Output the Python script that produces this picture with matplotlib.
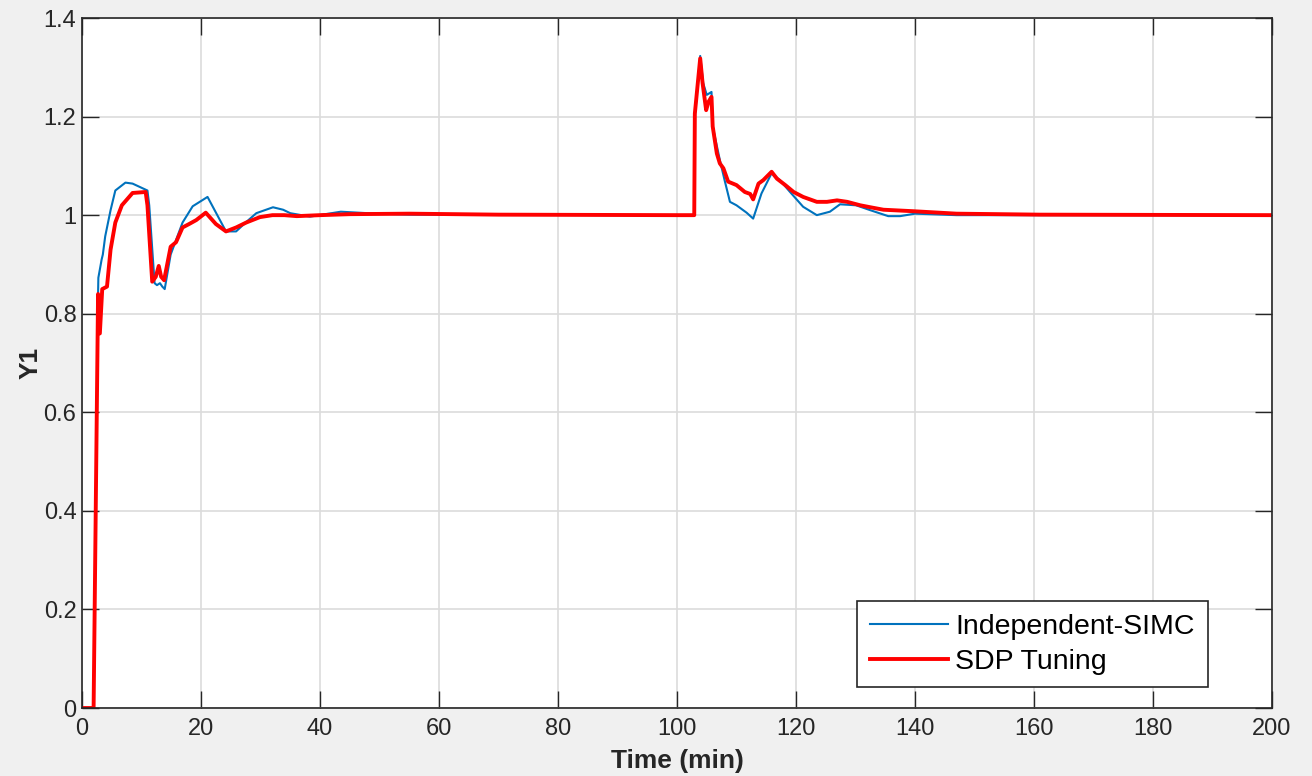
import numpy as np
import matplotlib.pyplot as plt

# response of Y1
t_simc = [0, 1.95, 2.7, 2.75, 3.3, 3.5, 3.9, 4.8, 5.6, 7.3, 8.5, 11.0, 11.3, 12.2,
          12.6, 13.1, 13.5, 13.9, 14.9, 16.9, 18.6, 21.1, 24.2, 25.9, 27.5, 29.3,
          32.1, 33.8, 35.0, 38.3, 43.5, 48.0, 55.0, 100.0, 102.9, 103.0, 103.9,
          104.4, 105.0, 105.8, 106.0, 107.2, 108.0, 108.9, 110.0, 111.7, 112.8,
          114.2, 115.9, 117.3, 119.0, 121.2, 123.5, 125.7, 127.4, 130.1, 132.5,
          135.5, 137.5, 140.0, 147.0, 200.0]
y_simc = [0, 0, 0.84, 0.873, 0.91, 0.92, 0.957, 1.01, 1.05, 1.066, 1.064, 1.05, 1.02,
          0.862, 0.858, 0.862, 0.855, 0.85, 0.92, 0.985, 1.018, 1.037, 0.967, 0.967,
          0.985, 1.004, 1.016, 1.011, 1.004, 0.997, 1.007, 1.004, 1.001, 1.0, 1.0,
          1.2, 1.323, 1.268, 1.244, 1.25, 1.18, 1.112, 1.071, 1.027, 1.02, 1.005,
          0.993, 1.044, 1.085, 1.071, 1.047, 1.017, 1.0, 1.007, 1.022, 1.02, 1.01,
          0.998, 0.998, 1.003, 1.0, 1.0]

t_sdp = [0, 1.95, 2.7, 3.0, 3.4, 4.2, 4.8, 5.6, 6.7, 8.5, 10.7, 11.0, 11.8, 12.4,
         12.9, 13.3, 13.8, 14.9, 15.8, 16.9, 18.0, 19.2, 20.8, 22.5, 24.2, 25.9,
         27.6, 29.9, 32.0, 34.0, 36.1, 40.0, 45.0, 55.0, 70.0, 100.0, 102.9, 103.0,
         103.9, 104.3, 104.9, 105.3, 105.8, 106.0, 106.7, 107.2, 107.8, 108.6,
         110.0, 111.4, 112.3, 112.8, 113.7, 114.5, 115.9, 116.8, 118.2, 119.6,
         121.2, 123.5, 125.2, 126.9, 128.6, 130.8, 132.5, 134.7, 139.7, 147.0,
         161.0, 200.0]
y_sdp = [0, 0, 0.84, 0.76, 0.85, 0.855, 0.93, 0.985, 1.02, 1.045, 1.047, 1.02, 0.865,
         0.875, 0.897, 0.875, 0.868, 0.936, 0.945, 0.975, 0.982, 0.99, 1.005, 0.982,
         0.967, 0.975, 0.985, 0.996, 1.0, 1.0, 0.998, 1.0, 1.002, 1.003, 1.001, 1.0,
         1.0, 1.206, 1.318, 1.268, 1.213, 1.23, 1.24, 1.18, 1.125, 1.105, 1.095,
         1.068, 1.061, 1.047, 1.043, 1.032, 1.064, 1.071, 1.088, 1.074, 1.061,
         1.047, 1.037, 1.027, 1.027, 1.03, 1.027, 1.02, 1.016, 1.011, 1.008, 1.003,
         1.001, 1.0]

x_ticks = list(range(0, 201, 20))
y_ticks = [0, 0.2, 0.4, 0.6, 0.8, 1.0, 1.2, 1.4]
y_tick_labels = ['0', '0.2', '0.4', '0.6', '0.8', '1', '1.2', '1.4']

plt.rcParams['font.family'] = ['Liberation Sans', 'DejaVu Sans']
dark = '#262626'

fig = plt.figure(figsize=(13.12, 7.76), dpi=100, facecolor='#f0f0f0')
ax = fig.add_axes([0.0625, 0.0876, 0.907, 0.8892])
ax.set_facecolor('white')

ax.plot(t_simc, y_simc, color='#0072BD', lw=1.5, label='Independent-SIMC')
ax.plot(t_sdp, y_sdp, color='#FF0000', lw=2.8, label='SDP Tuning')

ax.set_xlim(0, 200)
ax.set_ylim(0, 1.4)
ax.set_xticks(x_ticks)
ax.set_yticks(y_ticks)
ax.set_yticklabels(y_tick_labels)
ax.grid(True, color='#dcdcdc', lw=1.2)
ax.set_axisbelow(True)
ax.tick_params(direction='in', length=12, width=1.0, colors=dark, labelsize=17,
               top=True, right=True)
ax.tick_params(axis='x', pad=7)
ax.tick_params(axis='y', pad=4)
for s in ax.spines.values():
    s.set_color(dark)
    s.set_linewidth(1.2)

ax.set_xlabel('Time (min)', fontsize=19, fontweight='bold', color=dark, labelpad=7)
ax.set_ylabel('Y1', fontsize=19, fontweight='bold', color=dark, labelpad=0.5)

leg = ax.legend(loc='lower right', bbox_to_anchor=(0.946, 0.03), fontsize=20.5,
                frameon=True, fancybox=False, framealpha=1.0, handlelength=2.75,
                handletextpad=0.25, borderpad=0.45, labelspacing=0.3, borderaxespad=0)
leg.get_frame().set_edgecolor(dark)
leg.get_frame().set_linewidth(1.2)
for txt in leg.get_texts():
    txt.set_color('black')

plt.savefig('out.png', dpi=100, facecolor=fig.get_facecolor())
